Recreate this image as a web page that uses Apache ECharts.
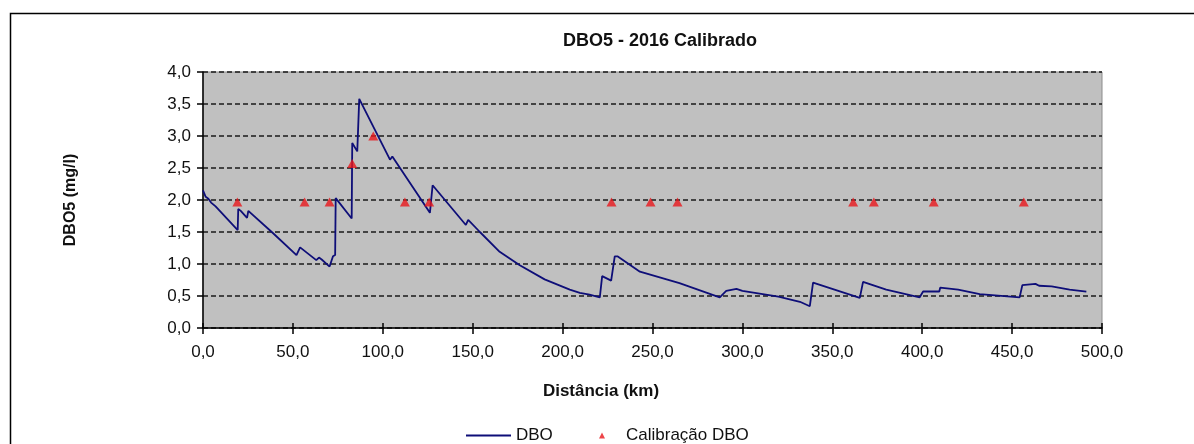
<!DOCTYPE html>
<html>
<head>
<meta charset="utf-8">
<script src="https://cdn.jsdelivr.net/npm/echarts@6/dist/echarts.min.js"></script>
<style>
html,body{margin:0;padding:0;background:#fff;}
#chart{width:1194px;height:444px;}
</style>
</head>
<body>
<div id="chart"></div>
<script>
// DBO profile (distance km, mg/l)
const dboKm = [0, 1.5, 3, 4.5, 5.5, 7, 19.3, 19.6, 21, 24.5, 25.2, 39, 52, 54, 63, 64.5, 66, 70.4, 71, 72.3, 73.5, 73.8, 82.7, 83.0, 85.8, 86.5, 86.9, 104, 105.3, 126.2, 127.7, 146.2, 147.5, 154, 165, 176.2, 190, 204, 209.6, 215, 220.7, 222, 227, 229, 230.5, 243, 265, 287.4, 288, 291, 296.7, 300, 320, 332, 337.5, 339.3, 365.3, 367.1, 380, 398.6, 400.5, 409.5, 410, 420, 421, 432, 454.2, 455.7, 463, 465, 472, 473, 482, 483, 491.3];
const dboVal = [2.15, 2.05, 2.02, 1.96, 1.99, 1.90, 1.53, 1.86, 1.83, 1.72, 1.83, 1.48, 1.14, 1.26, 1.06, 1.10, 1.07, 0.96, 0.96, 1.12, 1.14, 2.03, 1.71, 2.89, 2.76, 2.78, 3.58, 2.63, 2.68, 1.80, 2.23, 1.61, 1.69, 1.50, 1.19, 0.98, 0.76, 0.60, 0.55, 0.52, 0.48, 0.81, 0.74, 1.12, 1.12, 0.88, 0.70, 0.48, 0.48, 0.58, 0.61, 0.58, 0.49, 0.41, 0.34, 0.71, 0.47, 0.72, 0.60, 0.48, 0.57, 0.57, 0.63, 0.60, 0.57, 0.53, 0.48, 0.67, 0.69, 0.66, 0.65, 0.62, 0.60, 0.58, 0.57];
// Calibration points
const calKm = [19.1, 56.5, 70.4, 83.0, 94.7, 112.3, 125.8, 227.2, 248.9, 263.9, 361.6, 373.1, 406.4, 456.5];
const calVal = [1.97, 1.97, 1.97, 2.57, 3.0, 1.97, 1.97, 1.97, 1.97, 1.97, 1.97, 1.97, 1.97, 1.97];
const xTicks = {min: 0, max: 500, step: 50};
const yTicks = {min: 0, max: 4, step: 0.5};

const FONT = '"Liberation Sans", Arial, sans-serif';
const fmt = v => v.toFixed(1).replace('.', ',');

const chart = echarts.init(document.getElementById('chart'));
chart.setOption({
  backgroundColor: '#ffffff',
  animation: false,
  textStyle: {fontFamily: FONT},
  grid: {left: 203, top: 72, right: 92, bottom: 116, show: true, backgroundColor: '#c0c0c0', borderColor: '#8c8c8c', borderWidth: 1},
  xAxis: [{
    type: 'value', min: xTicks.min, max: xTicks.max, interval: xTicks.step, position: 'bottom',
    axisLine: {onZero: false, lineStyle: {color: '#000', width: 1.5}},
    axisTick: {show: true, length: 6, lineStyle: {color: '#000', width: 1.5}},
    axisLabel: {formatter: fmt, color: '#111', fontSize: 17, fontFamily: FONT, margin: 16},
    splitLine: {show: false}
  }, {
    type: 'value', min: xTicks.min, max: xTicks.max, interval: xTicks.step, position: 'bottom', offset: 0,
    axisLine: {show: false},
    axisTick: {show: true, inside: true, length: 5, lineStyle: {color: '#000', width: 1.5}},
    axisLabel: {show: false},
    splitLine: {show: false}
  }],
  yAxis: {
    type: 'value', min: yTicks.min, max: yTicks.max, interval: yTicks.step,
    name: 'DBO5 (mg/l)', nameLocation: 'middle', nameGap: 124, nameRotate: 90,
    nameTextStyle: {fontWeight: 'bold', fontSize: 16, color: '#111', fontFamily: FONT},
    axisLine: {show: true, lineStyle: {color: '#000', width: 1.5}},
    axisTick: {show: true, length: 6, lineStyle: {color: '#000', width: 1.5}},
    axisLabel: {formatter: fmt, color: '#111', fontSize: 17, fontFamily: FONT, margin: 12},
    splitLine: {show: true, lineStyle: {color: '#1a1a1a', width: 1.5, type: [5, 3]}}
  },
  legend: [
    {data: [{name: 'DBO', icon: 'rect'}], left: 461, top: 422, itemWidth: 45, itemHeight: 2, textStyle: {fontSize: 17, color: '#111', fontFamily: FONT}},
    {data: [{name: 'Calibração DBO', icon: 'triangle'}], left: 594, top: 422, itemWidth: 6, itemHeight: 6, textStyle: {fontSize: 17, color: '#111', fontFamily: FONT, padding: [0, 0, 0, 16]}}
  ],
  graphic: [
    {type: 'rect', left: 8, top: 11, shape: {x: 0, y: 0, width: 1210, height: 460}, style: {fill: 'none', stroke: '#000', lineWidth: 1.5}, silent: true, z: -1},
    {type: 'text', x: 660, y: 41, style: {text: 'DBO5 - 2016 Calibrado', font: 'bold 18px ' + FONT, fill: '#111', textAlign: 'center', textVerticalAlign: 'middle'}},
    {type: 'text', x: 601, y: 391, style: {text: 'Distância (km)', font: 'bold 17px ' + FONT, fill: '#111', textAlign: 'center', textVerticalAlign: 'middle'}}
  ],
  series: [
    {
      name: 'DBO', type: 'line', symbol: 'none', smooth: false,
      lineStyle: {color: '#0e0e78', width: 1.8}, itemStyle: {color: '#0e0e78'},
      data: dboKm.map((k, i) => [k, dboVal[i]]), z: 3
    },
    {
      name: 'Calibração DBO', type: 'scatter', symbol: 'triangle', symbolSize: [10, 9],
      itemStyle: {color: '#e8161b'},
      data: calKm.map((k, i) => [k, calVal[i]]), z: 4
    }
  ]
});
</script>
</body>
</html>
